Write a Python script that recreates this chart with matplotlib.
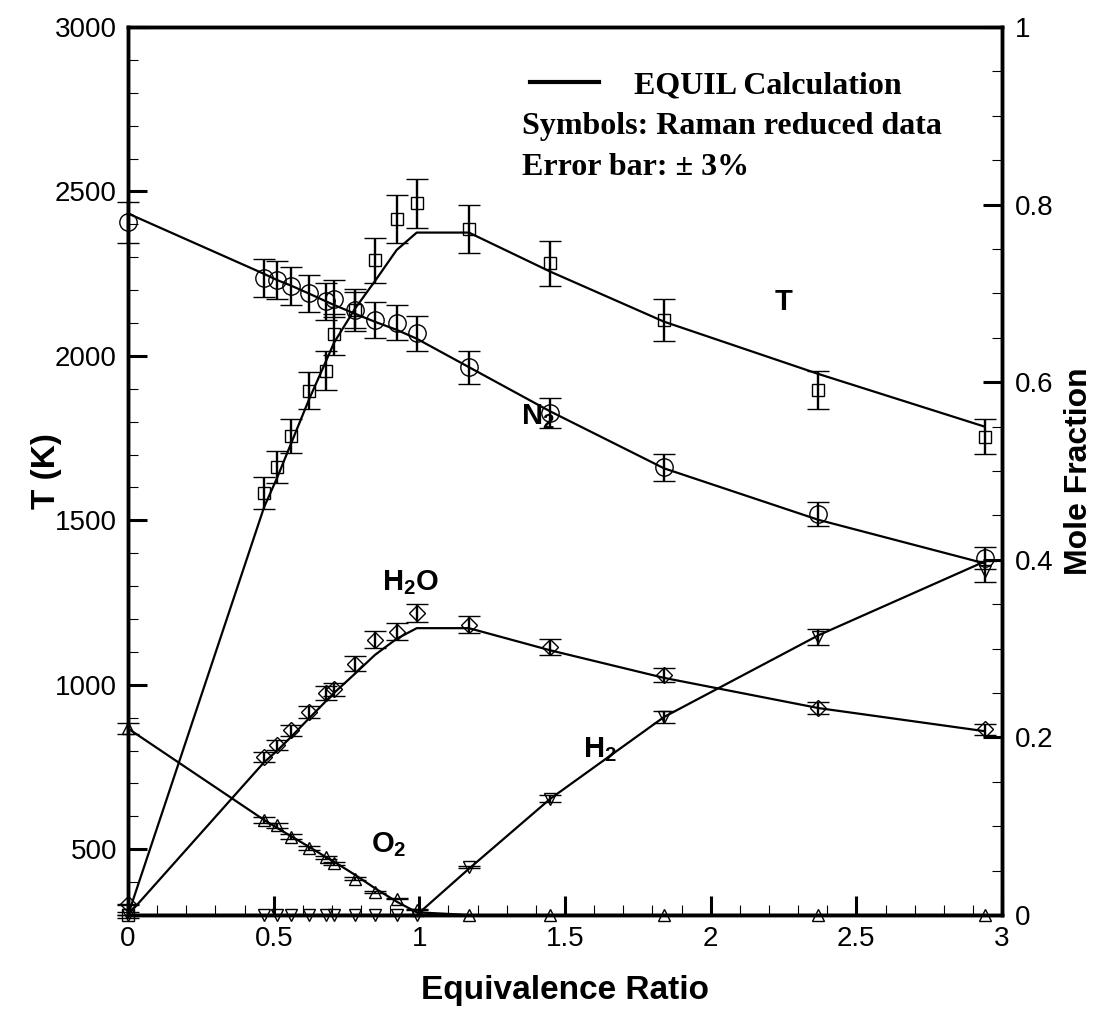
import numpy as np
import matplotlib.pyplot as plt
from matplotlib.lines import Line2D
from matplotlib.ticker import MultipleLocator

plt.rcParams['font.family'] = ['Liberation Sans', 'DejaVu Sans']
plt.rcParams['mathtext.fontset'] = 'custom'
plt.rcParams['mathtext.rm'] = 'Liberation Sans:bold'
plt.rcParams['mathtext.bf'] = 'Liberation Sans:bold'
plt.rcParams['mathtext.default'] = 'bf'

# data -----------------------------
phi = [0, 0.467, 0.512, 0.558, 0.62, 0.68, 0.707, 0.78, 0.848, 0.922, 0.991,
       1.17, 1.45, 1.84, 2.37, 2.94]

# temperature (K), left axis
T_meas = [300, 1583, 1662, 1756, 1894, 1955, 2066, 2140, 2291, 2416, 2464,
          2386, 2281, 2109, 1896, 1754]
T_calc = [300, 1540, 1630, 1730, 1865, 1985, 2040, 2145, 2228, 2322, 2375,
          2375, 2256, 2104, 1945, 1785]

# mole fractions, right axis
N2_meas = [0.78, 0.717, 0.715, 0.708, 0.700, 0.691, 0.694, 0.681, 0.670, 0.667, 0.655,
           0.617, 0.565, 0.504, 0.452, 0.402]
N2_calc = [0.79, 0.722, 0.715, 0.709, 0.700, 0.691, 0.687, 0.677, 0.668, 0.659, 0.649,
           0.617, 0.567, 0.503, 0.445, 0.396]

H2O_meas = [0.012, 0.178, 0.191, 0.208, 0.229, 0.250, 0.254, 0.283, 0.310, 0.319, 0.340,
            0.327, 0.302, 0.270, 0.233, 0.209]
H2O_calc = [0.0, 0.172, 0.185, 0.200, 0.221, 0.241, 0.250, 0.272, 0.293, 0.311, 0.323,
            0.323, 0.298, 0.267, 0.233, 0.207]

O2_meas = [0.21, 0.107, 0.101, 0.088, 0.075, 0.065, 0.058, 0.041, 0.026, 0.018, 0.006,
           0, 0, 0, 0, 0]
O2_calc = [0.21, 0.107, 0.098, 0.089, 0.077, 0.065, 0.060, 0.045, 0.030, 0.015, 0.003,
           0, 0, 0, 0, 0]

H2_meas = [0, 0, 0, 0, 0, 0, 0, 0, 0, 0, 0,
           0.054, 0.131, 0.223, 0.313, 0.387]
H2_calc = [0, 0, 0, 0, 0, 0, 0, 0, 0, 0, 0,
           0.052, 0.131, 0.223, 0.315, 0.398]

err = 0.03   # error bar +-3%

# figure ---------------------------
fig = plt.figure(figsize=(10.98, 10.09), dpi=100)
ax = fig.add_axes([0.1166, 0.0932, 0.796, 0.880])
ax2 = ax.twinx()


def draw(a, x, meas, calc, marker, ms):
    a.plot(x, calc, 'k-', lw=1.6, clip_on=False, zorder=2)
    meas = np.array(meas)
    eb = a.errorbar(x, meas, yerr=err * meas, fmt=marker, mfc='none', mec='k', mew=1.0,
                    ms=ms, ecolor='k', elinewidth=1.7, capsize=8, capthick=2.3, zorder=3)
    for c in eb.get_children():
        c.set_clip_on(False)


draw(ax, phi, T_meas, T_calc, 's', 8)
draw(ax2, phi, N2_meas, N2_calc, 'o', 12.5)
draw(ax2, phi, H2O_meas, H2O_calc, 'D', 8)
draw(ax2, phi, O2_meas, O2_calc, '^', 9)
draw(ax2, phi, H2_meas, H2_calc, 'v', 9)

ax.set_xlim(0, 3)
ax.set_ylim(300, 3000)
ax2.set_ylim(0, 1)

ax.set_xticks([0, 0.5, 1, 1.5, 2, 2.5, 3])
ax.set_xticklabels(['0', '0.5', '1', '1.5', '2', '2.5', '3'])
ax.xaxis.set_minor_locator(MultipleLocator(0.1))
ax.set_yticks([500, 1000, 1500, 2000, 2500, 3000])
ax.yaxis.set_minor_locator(MultipleLocator(100))
ax2.set_yticks([0, 0.2, 0.4, 0.6, 0.8, 1])
ax2.set_yticklabels(['0', '0.2', '0.4', '0.6', '0.8', '1'])
ax2.yaxis.set_minor_locator(MultipleLocator(0.05))

ax.tick_params(which='major', direction='in', length=14, width=2.2, labelsize=20, pad=8)
ax.tick_params(which='minor', direction='in', length=7, width=0.8)
ax.tick_params(right=False, top=False, which='both')
ax2.tick_params(which='major', direction='in', length=14, width=2.2, labelsize=20, pad=9)
ax2.tick_params(which='minor', direction='in', length=7, width=0.8)

for a in (ax, ax2):
    for s in a.spines.values():
        s.set_linewidth(2.5)

ax.set_xlabel('Equivalence Ratio', fontsize=24, fontweight='bold')
ax.xaxis.set_label_coords(0.5, -0.068)
ax.set_ylabel('T (K)', fontsize=24, fontweight='bold')
ax.yaxis.set_label_coords(-0.075, 0.5)
ax2.set_ylabel('Mole Fraction', fontsize=23, fontweight='bold')
ax2.yaxis.set_label_coords(1.071, 0.5)

# species labels
lab = dict(fontsize=21, fontweight='bold', ha='center', va='center')
ax.text(2.25, 2165, 'T', **lab)
ax2.text(1.407, 0.561, r'N$_2$', zorder=1, **lab)
ax2.text(0.971, 0.374, r'H$_2$O', **lab)
ax2.text(1.62, 0.186, r'H$_2$', **lab)
ax2.text(0.896, 0.079, r'O$_2$', **lab)

# legend block
serif = {'family': 'Liberation Serif', 'weight': 'bold', 'size': 23}
ax2.legend([Line2D([0], [0], color='k', lw=3)], ['EQUIL Calculation'], prop=serif,
           loc='center left', bbox_to_anchor=(0.46, 0.9336), frameon=False,
           borderpad=0, borderaxespad=0, handlelength=2.15, handletextpad=1.1)
ax2.text(0.4508, 0.8885, 'Symbols: Raman reduced data', fontdict=serif,
         transform=ax2.transAxes, ha='left', va='center')
ax2.text(0.4508, 0.8423, 'Error bar: \u00b1 3%', fontdict=serif,
         transform=ax2.transAxes, ha='left', va='center')

plt.savefig('out.png', dpi=100)
